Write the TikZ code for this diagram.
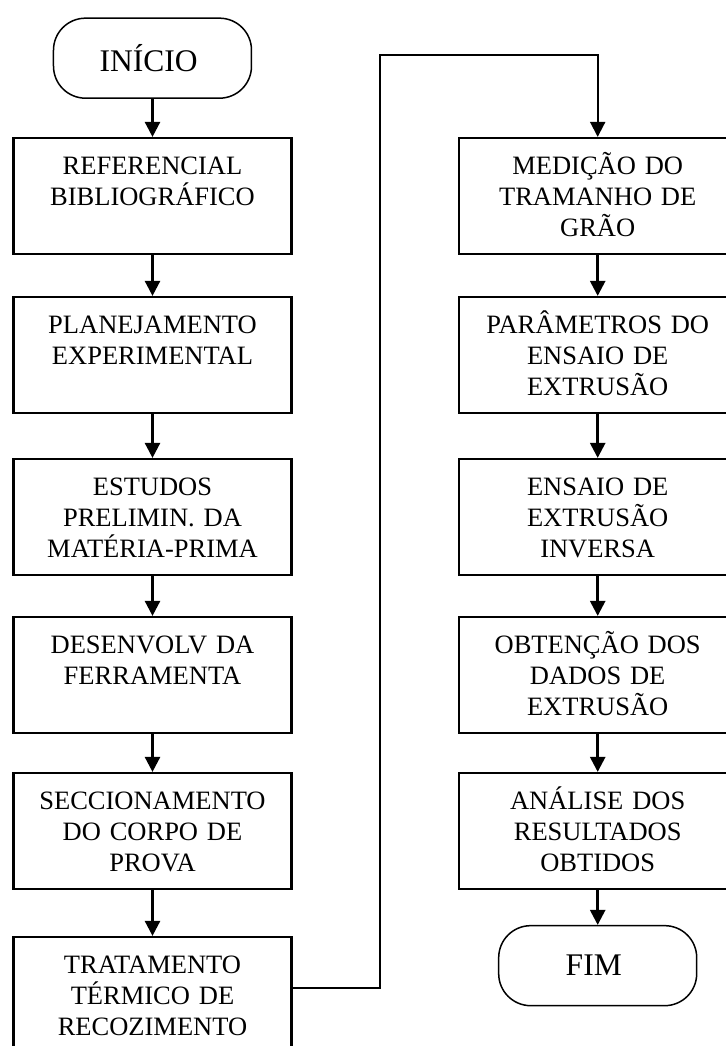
\documentclass[tikz,border=0pt]{standalone}
\usepackage{fontspec}
\setmainfont{Liberation Serif}
\usetikzlibrary{matrix,arrows.meta}
\tikzset{
	etapa/.style={draw,line width=1.1pt,minimum width=139pt,text width=128pt,align=center,
		inner ysep=0pt,text height=18pt,text depth=40pt,font=\fontsize{13.25pt}{15.5pt}\selectfont},
	terminal/.style={draw,line width=0.75pt,rounded corners=16pt,text width={},text height={},text depth={},
		minimum width=99pt,minimum height=40pt,inner sep=2pt,font=\fontsize{15.75pt}{18pt}\selectfont},
	flecha/.style={line width=1.3pt,-{Triangle[length=7.5pt,width=7.5pt]}}
}

\begin{document}
\begin{tikzpicture}
	\useasboundingbox (0,0) rectangle (362.5pt,-523pt);
	\matrix (m) [matrix of nodes,inner sep=0pt,row sep=18.4pt,column sep=82.5pt,nodes={etapa,anchor=north},anchor=north west] at (6pt,-8.5pt)
	{
	|[terminal]| INÍCIO & \\[0.6pt]
	{REFERENCIAL\\BIBLIOGRÁFICO} & {MEDIÇÃO DO\\TRAMANHO DE\\GRÃO} \\[2pt]
	{PLANEJAMENTO\\EXPERIMENTAL} & {PARÂMETROS DO\\ENSAIO DE\\EXTRUSÃO} \\[3.5pt]
	{ESTUDOS\\PRELIMIN. DA\\MATÉRIA-PRIMA} & {ENSAIO DE\\EXTRUSÃO\\INVERSA} \\[1.5pt]
	{DESENVOLV DA\\FERRAMENTA} & {OBTENÇÃO DOS\\DADOS DE\\EXTRUSÃO} \\[0.5pt]
	{SECCIONAMENTO\\DO CORPO DE\\PROVA} & {ANÁLISE DOS\\RESULTADOS\\OBTIDOS} \\[-1pt]
	{TRATAMENTO\\TÉRMICO DE\\RECOZIMENTO} & |[terminal,yshift=5.5pt]| FIM \\
	};
	\path[flecha]
	(m-1-1) edge (m-2-1)
	(m-2-1) edge (m-3-1)
	(m-3-1) edge (m-4-1)
	(m-4-1) edge (m-5-1)
	(m-5-1) edge (m-6-1)
	(m-6-1) edge (m-7-1)
	(m-2-2) edge (m-3-2)
	(m-3-2) edge (m-4-2)
	(m-4-2) edge (m-5-2)
	(m-5-2) edge (m-6-2)
	(m-6-2) edge (m-7-2);
	\draw[flecha,line width=1pt] ([yshift=3.5pt]m-7-1.east) -- ++(43.5pt,0) |- ([yshift=41pt]m-2-2.north) -- (m-2-2.north);
\end{tikzpicture}
\end{document}
